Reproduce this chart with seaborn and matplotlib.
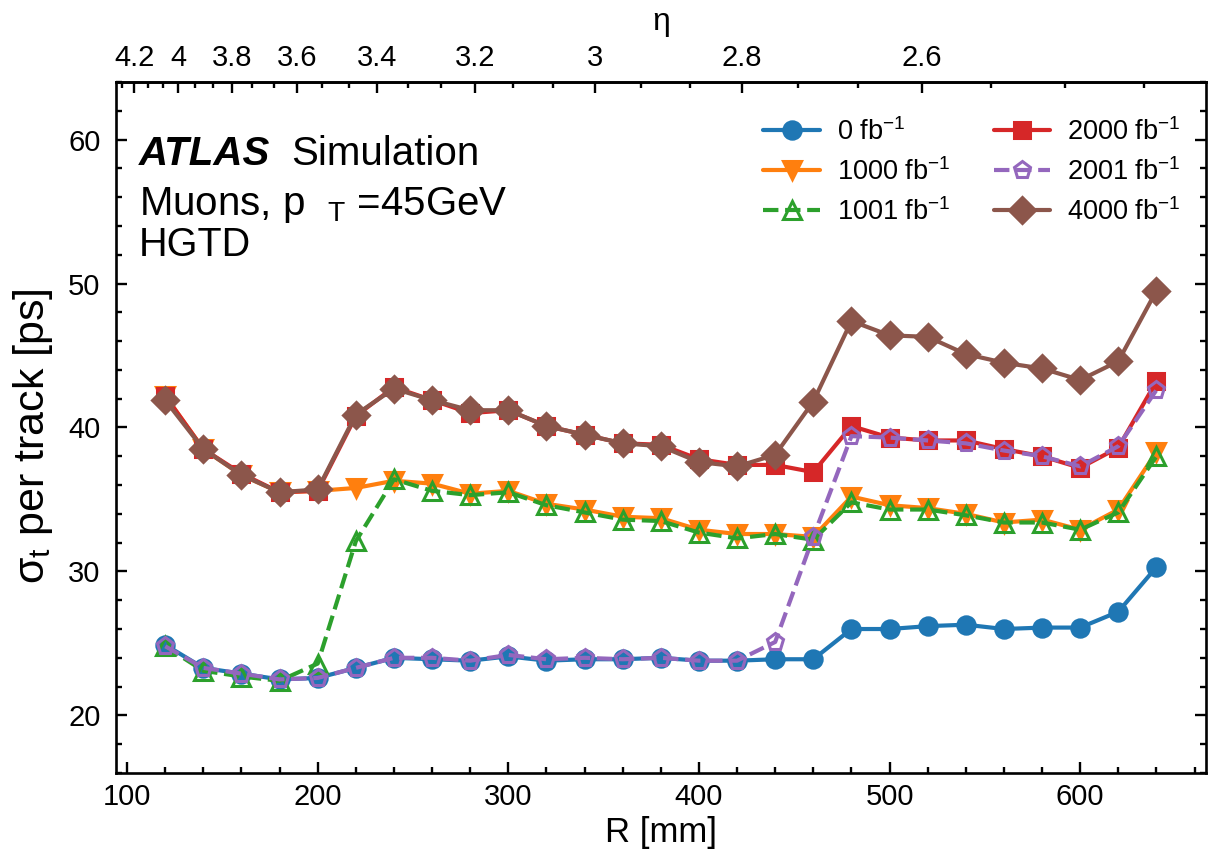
import numpy as np
import matplotlib
matplotlib.use("Agg")
import matplotlib.pyplot as plt
from matplotlib.ticker import MultipleLocator, FixedLocator, FuncFormatter
import seaborn as sns

# ---- data -------------------------------------------------------------
radius_mm = [120, 140, 160, 180, 200, 220, 240, 260, 280, 300, 320, 340, 360, 380,
             400, 420, 440, 460, 480, 500, 520, 540, 560, 580, 600, 620, 640]

lumi_labels = ["0 fb$^{-1}$", "1000 fb$^{-1}$", "1001 fb$^{-1}$",
               "2000 fb$^{-1}$", "2001 fb$^{-1}$", "4000 fb$^{-1}$"]

sigma_0 = [24.9, 23.3, 22.9, 22.5, 22.6, 23.3, 24.0, 23.9, 23.8, 24.1, 23.8, 23.9, 23.9, 24.0,
           23.8, 23.8, 23.9, 23.9, 26.0, 26.0, 26.2, 26.3, 26.0, 26.1, 26.1, 27.2, 30.3]
sigma_1000 = [42.2, 38.5, 36.7, 35.5, 35.6, 35.8, 36.3, 36.1, 35.4, 35.6, 34.7, 34.3, 33.8, 33.7,
              32.9, 32.6, 32.6, 32.4, 35.2, 34.6, 34.4, 34.0, 33.4, 33.6, 32.9, 34.3, 38.3]
sigma_1001 = [24.8, 23.1, 22.7, 22.4, 23.6, 32.1, 36.4, 35.6, 35.3, 35.5, 34.6, 34.1, 33.6, 33.5,
              32.7, 32.3, 32.6, 32.2, 34.8, 34.3, 34.3, 33.9, 33.4, 33.4, 32.9, 34.1, 38.0]
sigma_2000 = [42.2, 38.5, 36.8, 35.5, 35.6, 40.8, 42.8, 41.9, 41.0, 41.2, 40.1, 39.5, 38.9, 38.8,
              37.8, 37.4, 37.4, 36.9, 40.1, 39.3, 39.1, 39.1, 38.5, 38.0, 37.2, 38.6, 43.2]
sigma_2001 = [24.8, 23.3, 22.9, 22.5, 22.6, 23.3, 24.0, 24.0, 23.8, 24.2, 23.9, 24.0, 23.9, 24.0,
              23.8, 23.8, 25.1, 32.4, 39.4, 39.3, 39.1, 38.9, 38.4, 38.0, 37.3, 38.7, 42.6]
sigma_4000 = [41.9, 38.5, 36.7, 35.5, 35.7, 40.9, 42.7, 41.9, 41.2, 41.2, 40.1, 39.5, 38.9, 38.7,
              37.6, 37.3, 38.1, 41.8, 47.4, 46.4, 46.3, 45.1, 44.5, 44.1, 43.3, 44.6, 49.5]

eta_major = [4.2, 4.0, 3.8, 3.6, 3.4, 3.2, 3.0, 2.8, 2.6]

# distance of the HGTD layers from the interaction point [mm]
Z_HGTD = 3462.0

# ---- style ------------------------------------------------------------
sns.set_style("ticks")
plt.rcParams["font.family"] = ["Liberation Sans", "DejaVu Sans"]
plt.rcParams["mathtext.fontset"] = "custom"
plt.rcParams["mathtext.rm"] = "Liberation Sans"
plt.rcParams["mathtext.it"] = "Liberation Sans:italic"
plt.rcParams["mathtext.bf"] = "Liberation Sans:bold"
plt.rcParams["axes.linewidth"] = 1.9
for key in ["text.color", "axes.labelcolor", "xtick.color", "ytick.color",
            "axes.edgecolor", "xtick.labelcolor", "ytick.labelcolor"]:
    plt.rcParams[key] = "black"

series = [
    (sigma_0,    "#1f77b4", "o", "-",  True,  12.5),
    (sigma_1000, "#ff7f0e", "v", "-",  True,  12.5),
    (sigma_1001, "#2ca02c", "^", "--", False, 12.5),
    (sigma_2000, "#d62728", "s", "-",  True,  12),
    (sigma_2001, "#9467bd", "p", "--", False, 12.5),
    (sigma_4000, "#8c564b", "D", "-",  True,  13),
]

fig, ax = plt.subplots(figsize=(12.2, 8.51), dpi=100)
fig.subplots_adjust(left=0.0948, right=0.9885, top=0.9036, bottom=0.0917)

for label, (vals, color, marker, ls, filled, ms) in zip(lumi_labels, series):
    sns.lineplot(x=radius_mm, y=vals, ax=ax, color=color, marker=marker,
                 linestyle=ls, linewidth=3.0, markersize=ms,
                 mfc=color if filled else "none", mec=color, mew=2.2,
                 label=label)

ax.set_ylim(16, 64)
ax.set_xlabel("R [mm]", fontsize=25)
ax.set_ylabel("σ$_\\mathrm{t}$ per track [ps]", fontsize=31, labelpad=2)
ax.yaxis.set_label_coords(-0.056, 0.487)

ax.xaxis.set_major_locator(MultipleLocator(100))
ax.xaxis.set_minor_locator(MultipleLocator(20))
ax.yaxis.set_major_locator(MultipleLocator(10))
ax.yaxis.set_minor_locator(MultipleLocator(2))
ax.tick_params(axis="both", which="both", direction="in", labelsize=21, width=1.7)
ax.tick_params(axis="y", which="both", right=True, pad=11)
ax.tick_params(which="major", length=8)
ax.tick_params(which="minor", length=4.5)
ax.tick_params(axis="x", which="both", top=False, pad=7)


def r_to_eta(r):
    r = np.asarray(r, dtype=float)
    return np.arcsinh(Z_HGTD / np.clip(r, 1e-3, None))


def eta_to_r(eta):
    eta = np.asarray(eta, dtype=float)
    return Z_HGTD / np.sinh(np.clip(eta, 1e-3, None))


secax = ax.secondary_xaxis("top", functions=(r_to_eta, eta_to_r))
secax.xaxis.set_major_locator(FixedLocator(eta_major))
eta_minor = [e - k * 0.2 / 3 for e in [4.4] + eta_major for k in (1, 2)] + [2.4]
secax.xaxis.set_minor_locator(FixedLocator(eta_minor))
secax.xaxis.set_major_formatter(FuncFormatter(lambda v, p: f"{v:g}"))
secax.tick_params(which="both", direction="in", labelsize=21, width=1.7, pad=7)
secax.tick_params(which="major", length=8)
secax.tick_params(which="minor", length=4.5)
secax.set_xlabel("η", fontsize=23, labelpad=10)

ax.legend(ncol=2, loc="upper right", bbox_to_anchor=(1.0, 0.985), frameon=False,
          fontsize=19.5, handlelength=2.1, columnspacing=1.6, labelspacing=0.45,
          borderaxespad=0.55, handletextpad=0.6)

ax.text(0.021, 0.880, "ATLAS", transform=ax.transAxes, fontsize=29,
        fontweight="bold", fontstyle="italic", va="baseline", ha="left")
ax.text(0.1614, 0.880, "Simulation", transform=ax.transAxes, fontsize=29,
        va="baseline", ha="left")
ax.text(0.021, 0.808, "Muons, p  $_{\\mathrm{T}}$ =45GeV", transform=ax.transAxes,
        fontsize=29, va="baseline", ha="left")
ax.text(0.021, 0.748, "HGTD", transform=ax.transAxes, fontsize=28.5,
        va="baseline", ha="left")

fig.savefig("out.png", dpi=100)
